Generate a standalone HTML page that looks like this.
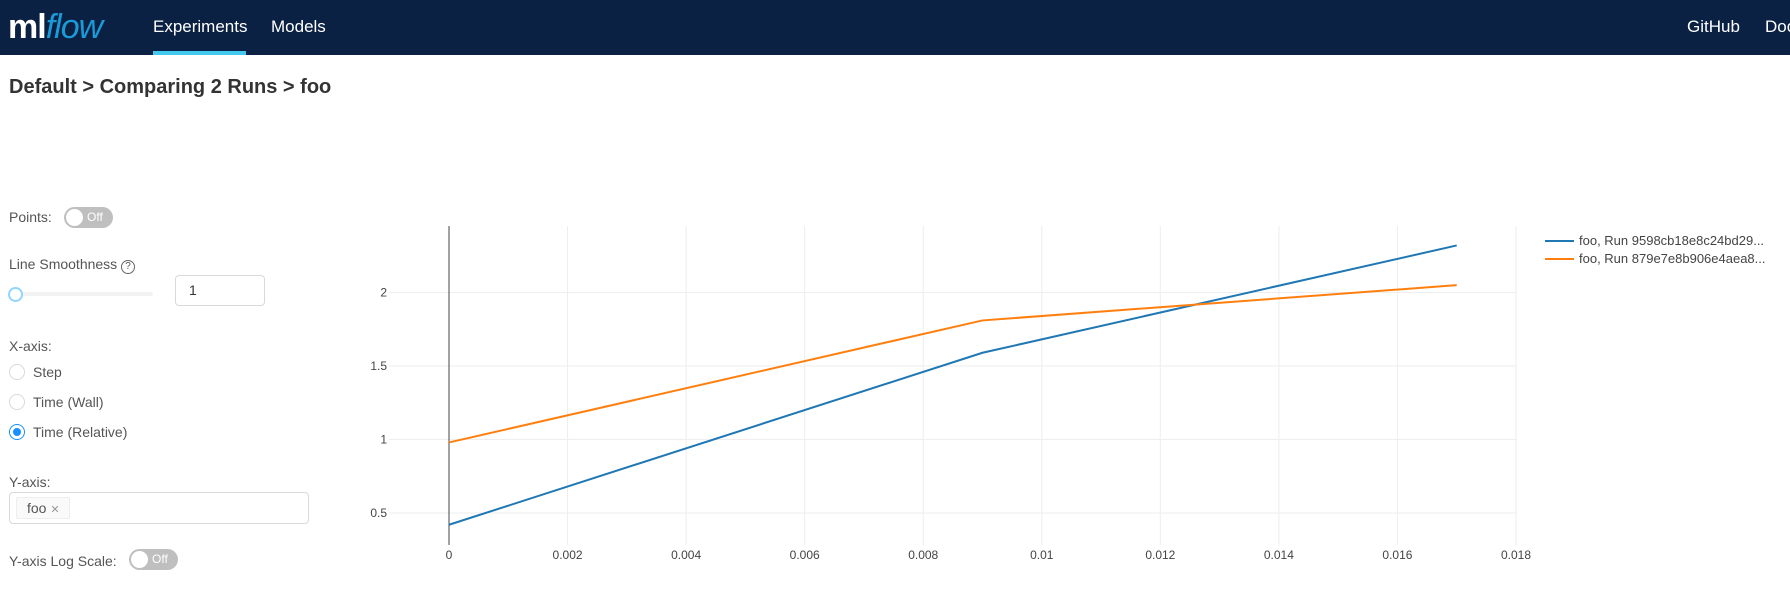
<!DOCTYPE html>
<html><head><meta charset="utf-8"><style>
*{box-sizing:border-box}
body{margin:0;width:1790px;height:605px;overflow:hidden;background:#fff;font-family:"Liberation Sans",sans-serif;position:relative}
.abs{position:absolute}
.lbl{position:absolute;font-size:14px;color:#555;left:9px;line-height:16px;white-space:nowrap}
.tog{position:absolute;width:49px;height:21px;border-radius:11px;background:#bfbfbf}
.tog .k{position:absolute;left:2px;top:2px;width:17px;height:17px;border-radius:50%;background:#fff}
.tog span{position:absolute;left:23px;top:3px;font-size:12px;color:#fff}
.radio{position:absolute;left:9px;width:16px;height:16px;border-radius:50%;border:1px solid #d9d9d9}
</style></head><body>
<div class="abs" style="left:0;top:0;width:1790px;height:55px;background:#0b2143">
 <div class="abs" style="left:8px;top:8px;font-size:34px;color:#fff;font-weight:bold;letter-spacing:-1px">ml<i style="color:#1a9bd8;font-weight:normal">flow</i></div>
 <div class="abs" style="left:153px;top:17px;font-size:17px;color:#fff">Experiments</div>
 <div class="abs" style="left:153px;top:51px;width:93px;height:4px;background:#43c9ed"></div>
 <div class="abs" style="left:271px;top:17px;font-size:17px;color:#fff">Models</div>
 <div class="abs" style="left:1687px;top:17px;font-size:17px;color:#fff">GitHub</div>
 <div class="abs" style="left:1765px;top:17px;font-size:17px;color:#fff">Docs</div>
</div>
<div class="abs" style="left:9px;top:76px;font-size:20px;font-weight:bold;color:#333">Default &gt; Comparing 2 Runs &gt; foo</div>

<div class="lbl" style="top:209px">Points:</div>
<div class="tog" style="left:64px;top:207px"><div class="k"></div><span>Off</span></div>
<div class="lbl" style="top:256px">Line Smoothness <span style="display:inline-block;width:14px;height:14px;border:1px solid #666;border-radius:50%;font-size:10px;text-align:center;line-height:12px">?</span></div>
<div class="abs" style="left:9px;top:292px;width:144px;height:4px;background:#f2f2f2;border-radius:2px"></div>
<div class="abs" style="left:8px;top:287px;width:15px;height:15px;border-radius:50%;border:2px solid #91d5ff;background:#fff"></div>
<div class="abs" style="left:175px;top:275px;width:90px;height:31px;border:1px solid #d9d9d9;border-radius:4px;font-size:14px;color:#333;padding:6px 13px">1</div>
<div class="lbl" style="top:338px">X-axis:</div>
<div class="radio" style="top:364px"></div><div class="lbl" style="left:33px;top:364px">Step</div>
<div class="radio" style="top:394px"></div><div class="lbl" style="left:33px;top:394px">Time (Wall)</div>
<div class="radio" style="top:424px;border-color:#1890ff"><div style="margin:3px;width:8px;height:8px;border-radius:50%;background:#1890ff"></div></div><div class="lbl" style="left:33px;top:424px">Time (Relative)</div>
<div class="lbl" style="top:474px">Y-axis:</div>
<div class="abs" style="left:9px;top:492px;width:300px;height:32px;border:1px solid #d9d9d9;border-radius:4px">
 <div class="abs" style="left:6px;top:4px;width:54px;height:22px;background:#fafafa;border:1px solid #eee;border-radius:2px;font-size:14px;color:#555;padding:2px 0 0 10px;white-space:nowrap">foo <span style="font-size:11px;color:#999">✕</span></div>
</div>
<div class="lbl" style="top:553px">Y-axis Log Scale:</div>
<div class="tog" style="left:129px;top:549px"><div class="k"></div><span>Off</span></div>

<svg id="chart" class="abs" style="left:0;top:0" width="1790" height="605" font-family="Liberation Sans, sans-serif"></svg>
<script>
const xTicks=[0,0.002,0.004,0.006,0.008,0.01,0.012,0.014,0.016,0.018];
const xTickLabels=["0","0.002","0.004","0.006","0.008","0.01","0.012","0.014","0.016","0.018"];
const yTicks=[0.5,1,1.5,2];
const yTickLabels=["0.5","1","1.5","2"];
const timeX=[0,0.009,0.017];
const blueValues=[0.42,1.59,2.32];
const orangeValues=[0.98,1.81,2.05];
const seriesNames=["foo, Run 9598cb18e8c24bd29...","foo, Run 879e7e8b906e4aea8..."];
const seriesColors=["#1f77b4","#ff7f0e"];
const NS="http://www.w3.org/2000/svg",svg=document.getElementById('chart');
const X=v=>449+v*(1516-449)/0.018, Y=v=>513-(v-0.5)*147;
function mk(t,a){const e=document.createElementNS(NS,t);for(const k in a)e.setAttribute(k,a[k]);svg.appendChild(e);return e;}
xTicks.forEach((v,i)=>{if(i>0){const g=mk('line',{x1:X(v),x2:X(v),y1:226,y2:545,stroke:'#eee'});

}
const t=mk('text',{x:X(v),y:559,'font-size':12,fill:'#444','text-anchor':'middle'});t.textContent=xTickLabels[i];

});
yTicks.forEach((v,i)=>{const g=mk('line',{x1:389,x2:1516,y1:Y(v),y2:Y(v),stroke:'#eee'});


const t=mk('text',{x:387,y:Y(v)+4,'font-size':12,fill:'#444','text-anchor':'end'});t.textContent=yTickLabels[i];

});
const ax=mk('line',{x1:449,x2:449,y1:226,y2:545,stroke:'#444'});


[blueValues,orangeValues].forEach((vals,s)=>{const p=mk('polyline',{points:vals.map((v,i)=>X(timeX[i])+','+Y(v)).join(' '),fill:'none',stroke:seriesColors[s],'stroke-width':2});


const ly=241+s*18;
const l=mk('line',{x1:1545,x2:1574,y1:ly,y2:ly,stroke:seriesColors[s],'stroke-width':2});


const t=mk('text',{x:1579,y:ly+4,'font-size':13,fill:'#444'});t.textContent=seriesNames[s];

});
</script>
</body></html>
